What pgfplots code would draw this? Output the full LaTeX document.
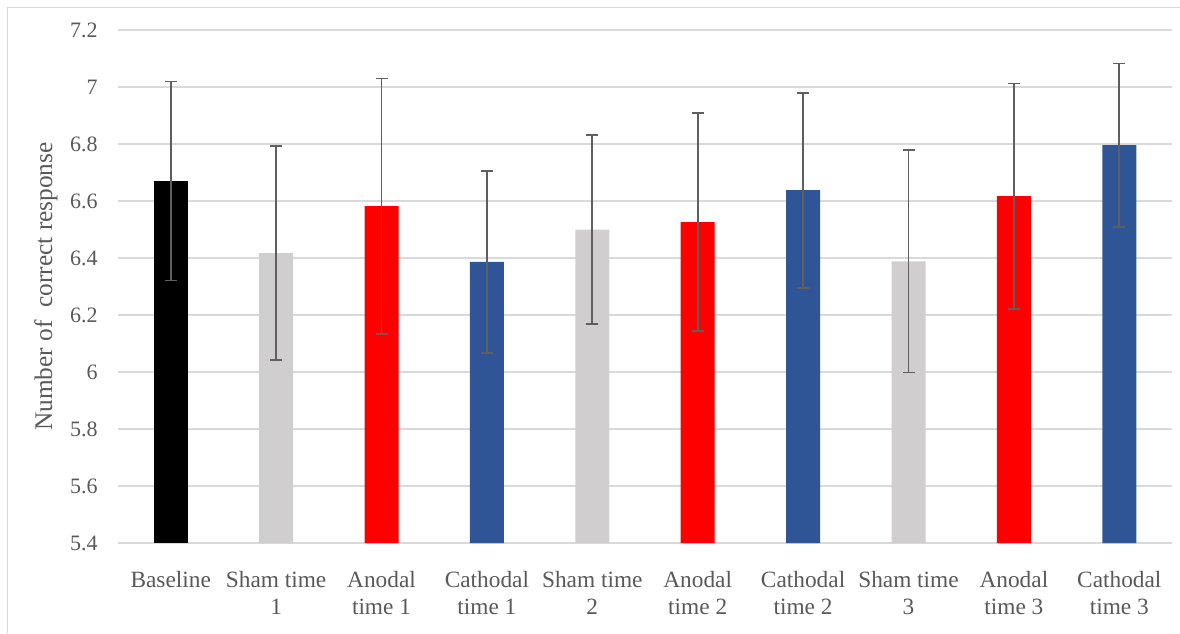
\documentclass[border=0pt]{standalone}
\usepackage{fontspec}
\setmainfont{Liberation Serif}
\usepackage{pgfplots}
\pgfplotsset{compat=1.18}
\definecolor{shamgray}{HTML}{D0CECE}
\definecolor{anored}{HTML}{FF0000}
\definecolor{cathblue}{HTML}{2F5597}
\definecolor{txtgray}{HTML}{595959}
\definecolor{gridgray}{HTML}{D9D9D9}
\definecolor{errgray}{HTML}{5F5F5F}
\pgfplotsset{myerr/.style={error bars/.cd, y dir=both, y explicit,
    error bar style={draw=errgray, line width=1.3pt},
    error mark options={rotate=90, mark size=4.5pt, line width=1.3pt, draw=errgray}}}
\begin{document}
\begin{tikzpicture}
\useasboundingbox (-88.5pt,-67.5pt) rectangle (796.5pt,407.25pt);
\draw[gridgray, line width=0.75pt] (-82.9pt,-67.5pt) -- (-82.9pt,401.6pt) -- (796.5pt,401.6pt);
\begin{axis}[
  at={(0pt,0pt)}, anchor=south west,
  scale only axis, width=790.5pt, height=384.75pt,
  ybar, bar width=25.5pt, bar shift=0pt,
  xmin=-0.5, xmax=9.5, ymin=5.4, ymax=7.2,
  xtick={0,1,2,3,4,5,6,7,8,9},
  xticklabels={Baseline,{Sham time\\1},{Anodal\\time 1},{Cathodal\\time 1},{Sham time\\2},{Anodal\\time 2},{Cathodal\\time 2},{Sham time\\3},{Anodal\\time 3},{Cathodal\\time 3}},
  ytick={5.4,5.6,5.8,6,6.2,6.4,6.6,6.8,7,7.2},
  yticklabels={5.4,5.6,5.8,6,6.2,6.4,6.6,6.8,7,7.2},
  major tick length=0pt,
  axis line style={draw=none},
  ymajorgrids, grid style={gridgray, line width=1.1pt},
  yticklabel style={font=\fontsize{16.5}{20.25}\selectfont, text=txtgray, inner sep=0pt, anchor=east, xshift=-15pt},
  xticklabel style={font=\fontsize{17.5}{20.25}\selectfont, text=txtgray, align=center, inner sep=0pt, anchor=north, yshift=-21pt},
  every axis y label/.style={at={(axis description cs:-0.0683,0.5)}, rotate=90, anchor=center, font=\fontsize{19}{22}\selectfont, text=txtgray},
  ylabel={Number of \ correct response},
]
\addplot[fill=black, draw=none, myerr] coordinates {(0,6.670) +- (0,0.349)};
\addplot[fill=shamgray, draw=none, myerr] coordinates {(1,6.417) +- (0,0.375) (4,6.500) +- (0,0.331) (7,6.388) +- (0,0.390)};
\addplot[fill=anored, draw=none, myerr] coordinates {(2,6.582) +- (0,0.448) (5,6.526) +- (0,0.382) (8,6.617) +- (0,0.395)};
\addplot[fill=cathblue, draw=none, myerr] coordinates {(3,6.386) +- (0,0.320) (6,6.638) +- (0,0.342) (9,6.796) +- (0,0.286)};
\end{axis}
\end{tikzpicture}
\end{document}
